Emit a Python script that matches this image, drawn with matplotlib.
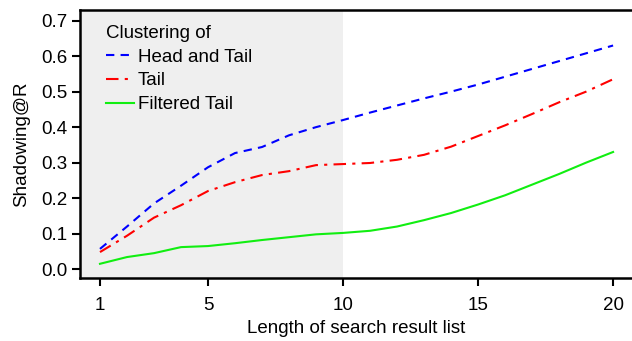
import matplotlib
matplotlib.use("Agg")
import matplotlib.pyplot as plt

plt.rcParams['font.family'] = ['Liberation Sans', 'DejaVu Sans']

# Data
lengths = list(range(1, 21))
head_and_tail = [0.057, 0.12, 0.185, 0.235, 0.287, 0.327, 0.344, 0.377, 0.40, 0.42,
                 0.441, 0.461, 0.481, 0.50, 0.52, 0.542, 0.564, 0.586, 0.608, 0.63]
tail = [0.048, 0.094, 0.145, 0.18, 0.22, 0.245, 0.265, 0.276, 0.293, 0.296,
        0.299, 0.308, 0.322, 0.345, 0.375, 0.405, 0.437, 0.47, 0.50, 0.535]
filtered_tail = [0.015, 0.034, 0.045, 0.062, 0.065, 0.073, 0.082, 0.09, 0.098, 0.102,
                 0.108, 0.12, 0.138, 0.158, 0.182, 0.208, 0.238, 0.268, 0.30, 0.33]
x_ticks = [1, 5, 10, 15, 20]
y_ticks = [0.0, 0.1, 0.2, 0.3, 0.4, 0.5, 0.6, 0.7]

fig = plt.figure(figsize=(6.32, 3.41), dpi=100)
ax = fig.add_axes([80 / 632, 63 / 341, 1 - 80 / 632, 268 / 341])

xmin, xmax = 0.26, 20.7
ax.axvspan(xmin, 10, color='#efefef', lw=0, zorder=0)

ax.plot(lengths, head_and_tail, color='#0000ff', lw=1.5, dashes=(4, 3), label='Head and Tail')
ax.plot(lengths, tail, color='#ff0000', lw=1.5, dashes=(6, 3, 1.5, 3), label='Tail')
ax.plot(lengths, filtered_tail, color='#11ee11', lw=1.5, label='Filtered Tail')

ax.set_xlim(xmin, xmax)
ax.set_ylim(-0.025, 0.73)
ax.set_xticks(x_ticks)
ax.set_yticks(y_ticks)
ax.set_yticklabels([f"{v:.1f}" for v in y_ticks])
ax.tick_params(labelsize=13.5, length=6, width=1.5, direction='out')
ax.tick_params(axis='x', pad=8)
ax.tick_params(axis='y', pad=3)

for side in ['left', 'bottom', 'top']:
    ax.spines[side].set_linewidth(1.8)
ax.spines['right'].set_visible(False)

ax.set_xlabel('Length of search result list', fontsize=13.5, labelpad=4)
ax.set_ylabel('Shadowing@R', fontsize=13.5, labelpad=8)

leg = ax.legend(title='Clustering of', loc='upper left', frameon=False, fontsize=13.5,
                title_fontsize=13.5, alignment='left', handlelength=1.5, handletextpad=0.2,
                labelspacing=0.35, borderaxespad=0.4, bbox_to_anchor=(0.02, 1.0))

fig.savefig('out.png', dpi=100)
